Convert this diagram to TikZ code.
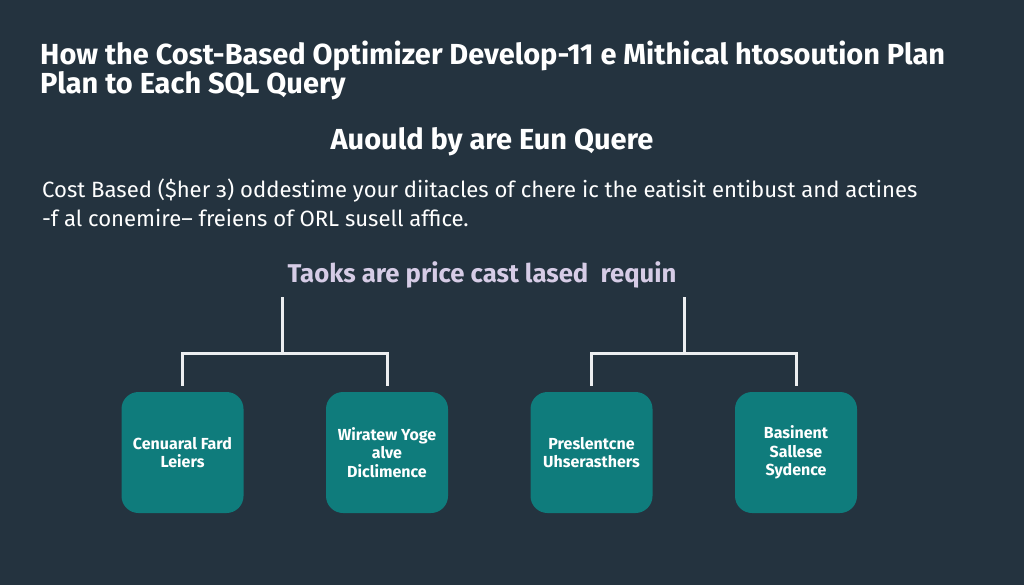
\documentclass[tikz,border=0pt]{standalone}
\usepackage{fontspec}
\setmainfont{Fira Sans}
\usetikzlibrary{positioning,calc}
\definecolor{slatebg}{RGB}{36,51,63}
\definecolor{planteal}{RGB}{15,124,124}
\definecolor{headlilac}{RGB}{214,204,230}
\definecolor{linewhite}{RGB}{236,238,240}

\begin{document}
\begin{tikzpicture}[
    x=1pt, y=-1pt,
    title/.style={
        anchor=west,
        align=left,
        inner sep=0pt,
        text=white,
        font=\fontsize{29}{29}\selectfont\bfseries
    },
    bodytext/.style={
        anchor=west,
        align=left,
        inner sep=0pt,
        text=white,
        font=\fontsize{22.1}{29}\selectfont
    },
    planbox/.style={
        rectangle,
        rounded corners=17pt,
        fill=planteal,
        align=center,
        text=white,
        minimum width=122pt,
        minimum height=121pt,
        font=\fontsize{16}{18.5}\selectfont\bfseries
    },
    conn/.style={draw=linewhite, line width=3pt}
]

% Background
\fill[slatebg] (0,0) rectangle (1024,585);
\useasboundingbox (0,0) rectangle (1024,585);

% Heading texts
\node[title] (title) at (40,70.5)
    {How the Cost-Based Optimizer Develop-11 e Mithical htosoution Plan\\
     Plan to Each SQL Query};

\node[title, anchor=center] (sub) at (492,142) {Auould by are Eun Quere};

\node[bodytext] (body) at (42,202.5)
    {Cost Based (\$her з) oddestime your diitacles of chere ic the eatisit entibust and actines\\
     -f al conemire-- freiens of ORL susell affice.};

\node[title, anchor=center, text=headlilac, font=\fontsize{25.7}{26}\selectfont\bfseries] (head)
    at (482,275) {Taoks are price cast lased\ \ requin};

% Plan boxes
\node[planbox] (costfard) at (182.5,452.5) {Cenuaral Fard\\Leiers};
\node[planbox] (wiratew) at (387,452.5) {Wiratew Yoge\\alve\\Diclimence};
\node[planbox] (preslent) at (591.5,452.5) {Preslentcne\\Uhserasthers};
\node[planbox] (basinent) at (796,452.5) {Basinent\\Sallese\\Sydence};

% Tree connectors
\coordinate (ltop) at (282,297);
\coordinate (ljoin) at (282,353);
\coordinate (rtop) at (684,297);
\coordinate (rjoin) at (684,353);

\draw[conn] (ltop) -- (ljoin);
\draw[conn, shorten >=6pt] (ljoin) -| (costfard.north);
\draw[conn, shorten >=6pt] (ljoin) -| (wiratew.north);
\draw[conn] (rtop) -- (rjoin);
\draw[conn, shorten >=6pt] (rjoin) -| (preslent.north);
\draw[conn, shorten >=6pt] (rjoin) -| (basinent.north);

\end{tikzpicture}
\end{document}
